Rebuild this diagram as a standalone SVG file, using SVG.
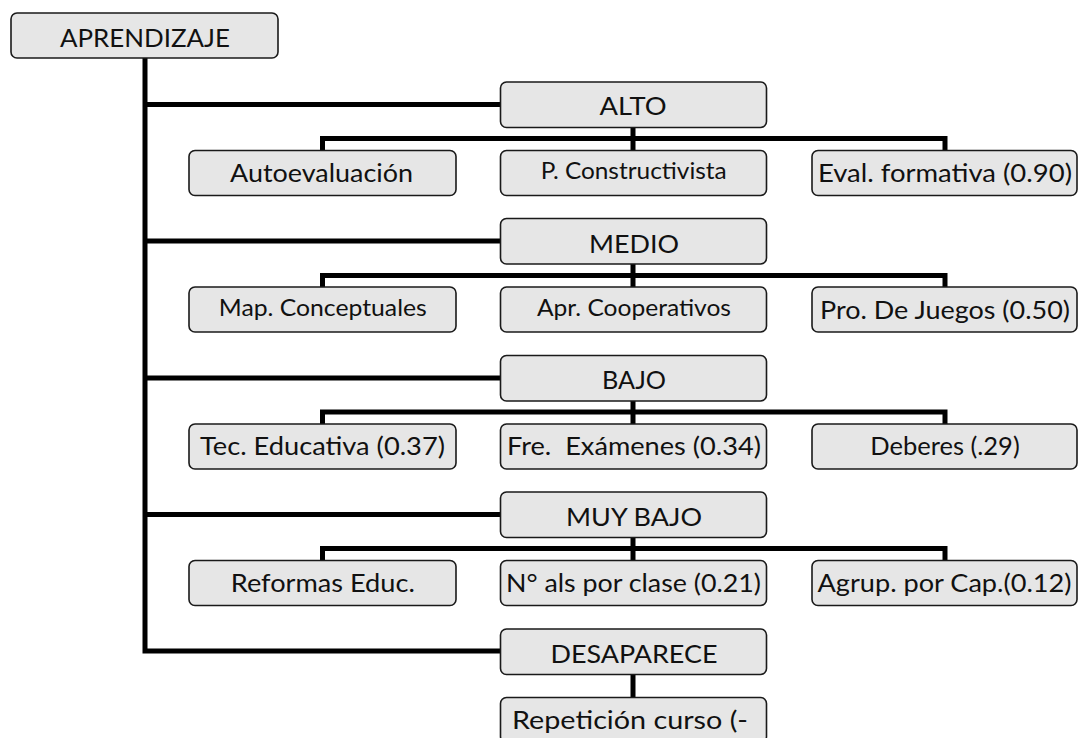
<svg xmlns="http://www.w3.org/2000/svg" width="1078" height="738" viewBox="0 0 1078 738">
<style>
.box{fill:#e6e6e6;stroke:#1a1a1a;stroke-width:1.6}
.c{fill:none;stroke:#000;stroke-width:5;stroke-linejoin:miter;stroke-linecap:butt}
text{font-family:Lato,"Liberation Sans",sans-serif;fill:#111;text-anchor:middle}
.L{font-size:25.5px}
.S{font-size:23px}
</style>
<rect width="1078" height="738" fill="#fff"/>
<g id="connectors">
<path class="c" d="M145,58 V651 H500"/>
<path class="c" d="M145,104.5 H500 M145,241 H500 M145,378 H500 M145,514.5 H500"/>
<path class="c" d="M633,127.5 V150.5 M322.5,150.5 V138.5 H945 V150.5"/>
<path class="c" d="M633,264 V287 M322.5,287 V275.5 H945 V287"/>
<path class="c" d="M633,401 V424 M322.5,424 V412 H945 V424"/>
<path class="c" d="M633,537.5 V560.5 M322.5,560.5 V548.5 H945 V560.5"/>
<path class="c" d="M633,674.5 V697.5"/>
</g>
<g id="aprendizaje"><rect class="box" x="11" y="13" width="267" height="45" rx="6"/><text class="L" x="145" y="46.5" textLength="170" lengthAdjust="spacingAndGlyphs">APRENDIZAJE</text></g>

<g id="alto"><rect class="box" x="500.5" y="82" width="266" height="45.5" rx="6"/><text class="L" x="633" y="115" textLength="67" lengthAdjust="spacingAndGlyphs">ALTO</text></g>
<g id="autoevaluacion"><rect class="box" x="189" y="150.5" width="267" height="45" rx="6"/><text class="L" x="321.5" y="182" textLength="183" lengthAdjust="spacingAndGlyphs">Autoevaluación</text></g>
<g id="constructivista"><rect class="box" x="500.5" y="150.5" width="266" height="45" rx="6"/><text class="S" x="633.7" y="178.5" textLength="186" lengthAdjust="spacingAndGlyphs">P. Constructivista</text></g>
<g id="evalformativa"><rect class="box" x="812" y="150.5" width="265" height="45" rx="6"/><text class="L" x="945" y="182" textLength="254" lengthAdjust="spacingAndGlyphs">Eval. formativa (0.90)</text></g>

<g id="medio"><rect class="box" x="500.5" y="218.5" width="266" height="45.5" rx="6"/><text class="L" x="634" y="252.5" textLength="90" lengthAdjust="spacingAndGlyphs">MEDIO</text></g>
<g id="mapconceptuales"><rect class="box" x="189" y="287" width="267" height="45" rx="6"/><text class="S" x="322.8" y="316" textLength="208" lengthAdjust="spacingAndGlyphs">Map. Conceptuales</text></g>
<g id="aprcooperativos"><rect class="box" x="500.5" y="287" width="266" height="45" rx="6"/><text class="S" x="634" y="316" textLength="194" lengthAdjust="spacingAndGlyphs">Apr. Cooperativos</text></g>
<g id="projuegos"><rect class="box" x="812" y="287" width="265" height="45" rx="6"/><text class="L" x="945" y="318.5" textLength="250" lengthAdjust="spacingAndGlyphs">Pro. De Juegos (0.50)</text></g>

<g id="bajo"><rect class="box" x="500.5" y="355.5" width="266" height="45.5" rx="6"/><text class="L" x="634" y="389" textLength="64" lengthAdjust="spacingAndGlyphs">BAJO</text></g>
<g id="teceducativa"><rect class="box" x="189" y="424" width="267" height="45" rx="6"/><text class="L" x="322.5" y="454.5" textLength="245" lengthAdjust="spacingAndGlyphs">Tec. Educativa (0.37)</text></g>
<g id="freexamenes"><rect class="box" x="500.5" y="424" width="266" height="45" rx="6"/><text class="L" x="634" y="454.5" textLength="254" lengthAdjust="spacingAndGlyphs" xml:space="preserve">Fre.  Exámenes (0.34)</text></g>
<g id="deberes"><rect class="box" x="812" y="424" width="265" height="45" rx="6"/><text class="L" x="945" y="454.5">Deberes (.29)</text></g>

<g id="muybajo"><rect class="box" x="500.5" y="492" width="266" height="45.5" rx="6"/><text class="L" x="634" y="526" textLength="136" lengthAdjust="spacingAndGlyphs">MUY BAJO</text></g>
<g id="reformas"><rect class="box" x="189" y="560.5" width="267" height="45" rx="6"/><text class="L" x="322.8" y="592" textLength="184" lengthAdjust="spacingAndGlyphs">Reformas Educ.</text></g>
<g id="alsporclase"><rect class="box" x="500.5" y="560.5" width="266" height="45" rx="6"/><text class="L" x="633.5" y="592" textLength="255" lengthAdjust="spacingAndGlyphs">N° als por clase (0.21)</text></g>
<g id="agrupcap"><rect class="box" x="812" y="560.5" width="265" height="45" rx="6"/><text class="L" x="944.5" y="592" textLength="254" lengthAdjust="spacingAndGlyphs">Agrup. por Cap.(0.12)</text></g>

<g id="desaparece"><rect class="box" x="500.5" y="629" width="266" height="45.5" rx="6"/><text class="L" x="634" y="663" textLength="167" lengthAdjust="spacingAndGlyphs">DESAPARECE</text></g>
<g id="repeticion"><rect class="box" x="500.5" y="697.5" width="266" height="45" rx="6"/><text class="L" x="630" y="729" textLength="236" lengthAdjust="spacingAndGlyphs">Repetición curso (-</text></g>
</svg>
